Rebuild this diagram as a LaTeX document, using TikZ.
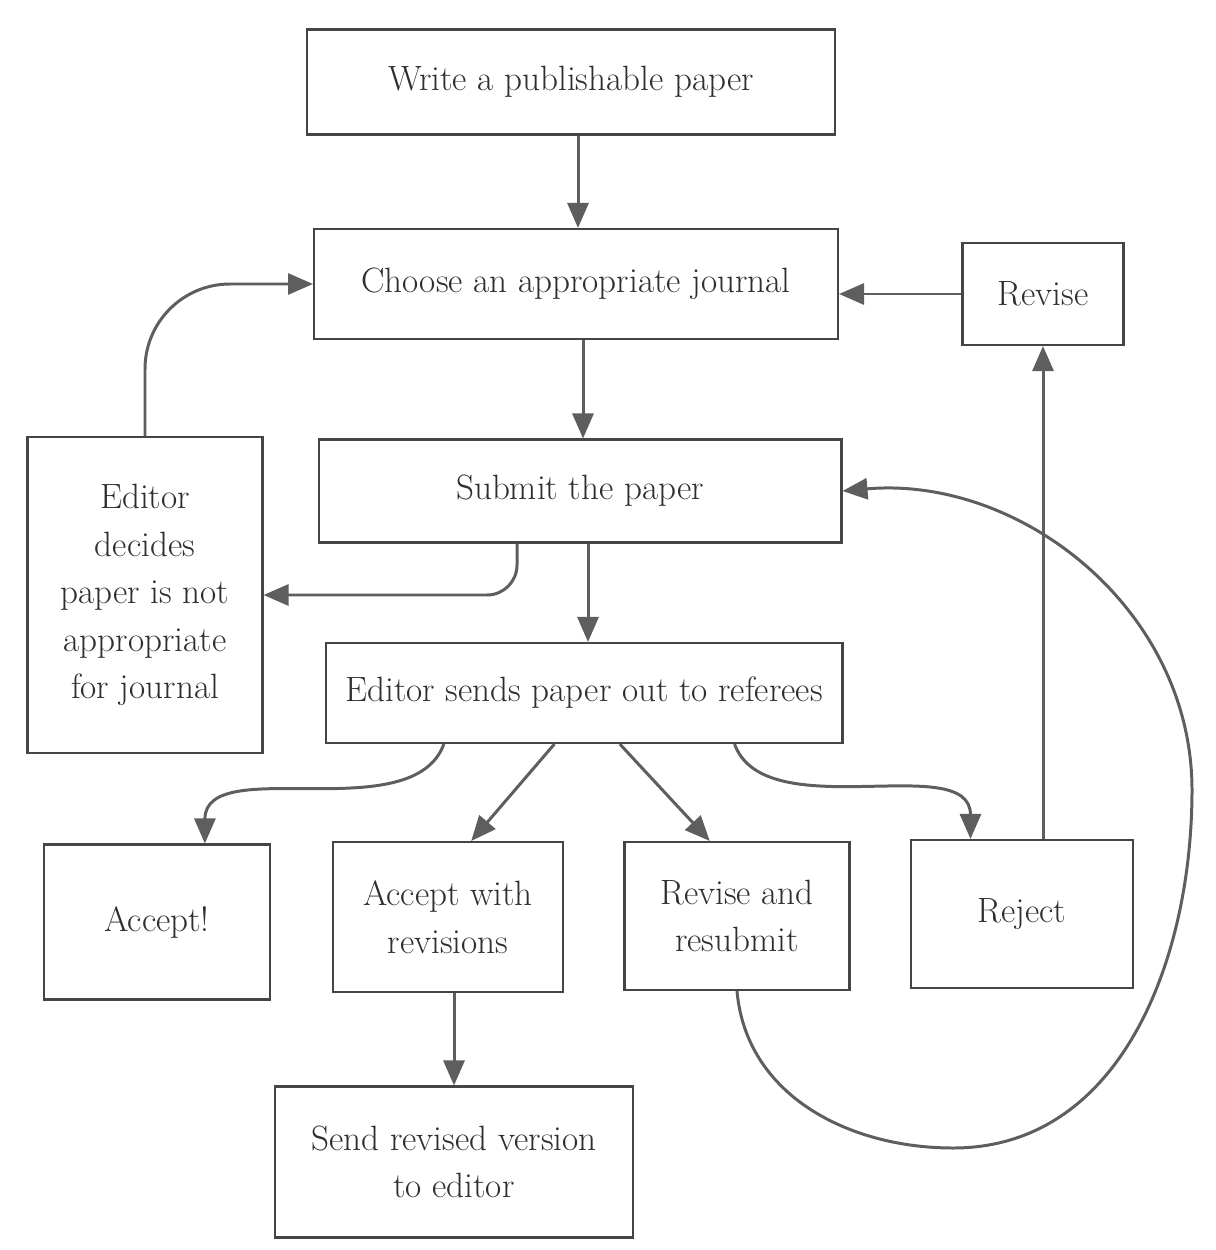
\documentclass[tikz,border=0pt]{standalone}
\usepackage{amsmath,amssymb}
\usepackage{tikz}
\usetikzlibrary{arrows.meta, calc}

\definecolor{boxline}{HTML}{454545}
\definecolor{arrowgray}{HTML}{5E5E5E}
\definecolor{inkgray}{HTML}{2E2E2E}

\begin{document}
\begin{tikzpicture}[x=0.02cm,y=-0.02cm,
  box/.style={draw=boxline,line width=1.2pt,align=center,text=inkgray,
    font=\fontsize{20}{27}\selectfont,inner sep=0pt},
  arr/.style={draw=arrowgray,line width=1.7pt,-{Triangle[length=0.5cm,width=0.42cm]}}]
\useasboundingbox[fill=white] (0,0) rectangle (1216,1250);

% boxes
\node[box,minimum width=10.56cm,minimum height=2.1cm] (write) at (571,82) {Write a publishable paper};
\node[box,minimum width=10.48cm,minimum height=2.2cm] (choose) at (576,284) {Choose an appropriate journal};
\node[box,minimum width=3.22cm,minimum height=2.04cm] (revise) at (1043,294) {Revise};
\node[box,minimum width=10.46cm,minimum height=2.06cm] (submit) at (580,491) {Submit the paper};
\node[box,minimum width=4.7cm,minimum height=6.32cm] (editor) at (145,595) {Editor\\decides\\paper is not\\appropriate\\for journal};
\node[box,minimum width=10.34cm,minimum height=2cm] (referees) at (584,693) {Editor sends paper out to referees};
\node[box,minimum width=4.52cm,minimum height=3.1cm] (accept) at (157,922) {Accept!};
\node[box,minimum width=4.6cm,minimum height=3cm] (acceptrev) at (448,917) {Accept with\\revisions};
\node[box,minimum width=4.5cm,minimum height=2.96cm] (resubmit) at (737,916) {Revise and\\resubmit};
\node[box,minimum width=4.44cm,minimum height=2.96cm] (reject) at (1022,914) {Reject};
\node[box,minimum width=7.16cm,minimum height=3.02cm] (sendrev) at (454,1162) {Send revised version\\to editor};

% loop points
\coordinate (loopbottom) at (953,1148);
\coordinate (loopright) at (1192,790);

% connectors
\draw[arr] (write.south -| 578,0) -- (choose.north -| 578,0);
\draw[arr] (choose.south -| 583,0) -- (submit.north -| 583,0);
\draw[arr] (submit.south -| 588,0) -- (referees.north -| 588,0);
\draw[arr] (revise.west) -- (revise.west -| choose.east);
\draw[arr] (reject.north -| revise.south) -- (revise.south);
\draw[arr,rounded corners=1.7cm] (editor.north) |- (choose.west);
\draw[arr,rounded corners=0.6cm] ($(submit.south west)!0.38!(submit.south east)$) |- (editor.east);
\draw[arr] ($(referees.south west)!0.23!(referees.south east)$) to[out=-110,in=90,looseness=0.9] ($(accept.north west)!0.71!(accept.north east)$);
\draw[arr] ($(referees.south west)!0.443!(referees.south east)$) -- ($(acceptrev.north west)!0.6!(acceptrev.north east)$);
\draw[arr] ($(referees.south west)!0.569!(referees.south east)$) -- ($(resubmit.north west)!0.38!(resubmit.north east)$);
\draw[arr] ($(referees.south west)!0.79!(referees.south east)$) to[out=-70,in=90,looseness=0.9] ($(reject.north west)!0.27!(reject.north east)$);
\draw[arr] (acceptrev.south -| sendrev.north) -- (sendrev.north);
\draw[arr] (resubmit.south) to[out=-85,in=180] (loopbottom) to[out=0,in=-90] (loopright) to[out=90,in=5] (submit.east);
\end{tikzpicture}
\end{document}
